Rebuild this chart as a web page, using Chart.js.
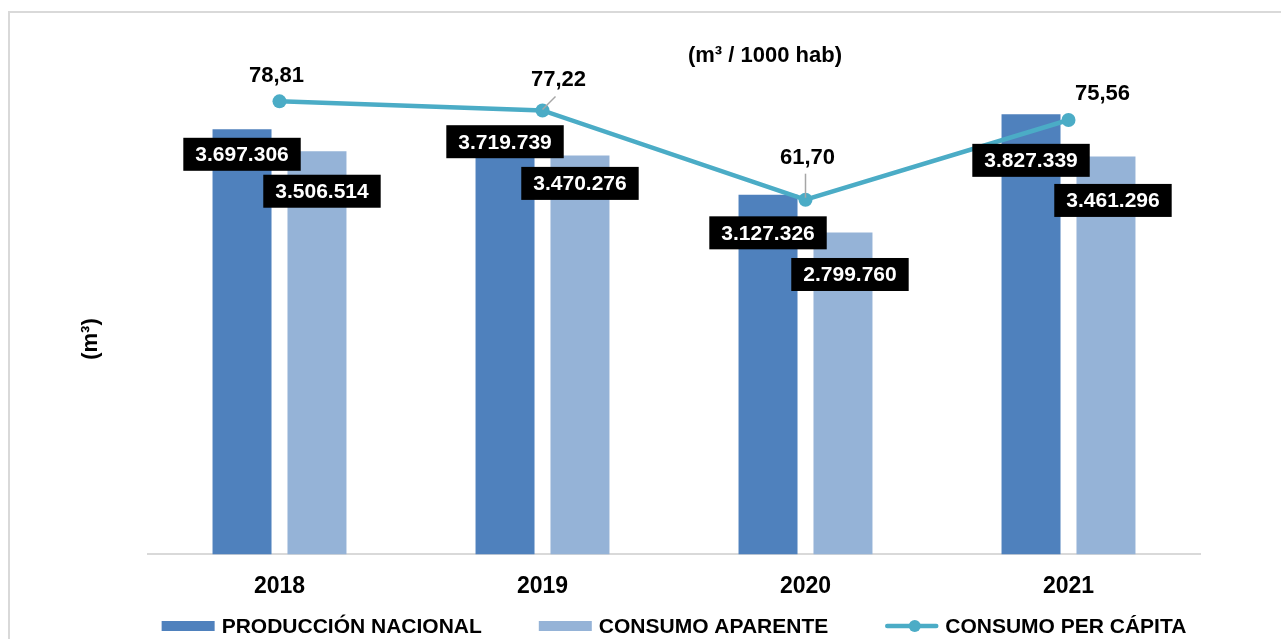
<!DOCTYPE html>
<html>
<head>
<meta charset="utf-8">
<script src="https://cdn.jsdelivr.net/npm/chart.js@4"></script>
<style>
    html, body { margin: 0; padding: 0; background: #fff; overflow: hidden; }
    #marco { position: absolute; left: 8px; top: 11px; width: 1320px; height: 700px; border: 2px solid #D9D9D9; box-sizing: border-box; }
    #caja { position: absolute; left: 0; top: 0; width: 1281px; height: 639px; }
</style>
</head>
<body>
<div id="marco"></div>
<div id="caja"><canvas id="grafico"></canvas></div>
<script>
// Datos
const anios = ['2018', '2019', '2020', '2021'];
const produccionNacional = [3697306, 3719739, 3127326, 3827339];
const consumoAparente = [3506514, 3470276, 2799760, 3461296];
const consumoPerCapita = [78.81, 77.22, 61.70, 75.56];
const nombresSeries = ['PRODUCCIÓN NACIONAL', 'CONSUMO APARENTE', 'CONSUMO PER CÁPITA'];
const maxM3 = 4500000;
const maxPerCapita = 90;

// Ajustes de posición de las etiquetas (px desde la barra / punto)
const desplazaBarras = [
    [[0, 25], [0, 15], [0, 38], [0, 46]],
    [[5, 40], [0, 28], [7, 42], [7, 44]]
];
const desplazaLinea = [[-3, -25], [16, -31], [2, -42], [34, -26]];
const guias = [null, [[0, -1], [13, -14]], [[0, -2], [0, -26]], null];

const colores = ['#4F81BD', '#95B3D7', '#4BACC6'];
const fuente = '"Liberation Sans", Arial, sans-serif';

function miles(n) {
    return String(n).replace(/\B(?=(\d{3})+(?!\d))/g, '.');
}
function decimal(n) {
    return n.toFixed(2).replace('.', ',');
}

const etiquetas = {
    id: 'etiquetas',
    afterDatasetsDraw: function (chart) {
        const ctx = chart.ctx;
        const area = chart.chartArea;
        ctx.save();
        ctx.textAlign = 'center';
        ctx.textBaseline = 'middle';

        // Cajas negras de las barras
        ctx.font = 'bold 21px ' + fuente;
        [0, 1].forEach(function (d) {
            chart.getDatasetMeta(d).data.forEach(function (bar, i) {
                const txt = miles(chart.data.datasets[d].data[i]);
                const off = desplazaBarras[d][i];
                const cx = bar.x + off[0];
                const cy = bar.y + off[1];
                const w = ctx.measureText(txt).width + 24;
                const h = 33;
                ctx.fillStyle = '#000';
                ctx.fillRect(cx - w / 2, cy - h / 2, w, h);
                ctx.fillStyle = '#fff';
                ctx.fillText(txt, cx, cy + 1);
            });
        });

        // Etiquetas de la línea
        ctx.font = 'bold 22px ' + fuente;
        chart.getDatasetMeta(2).data.forEach(function (pt, i) {
            const g = guias[i];
            if (g) {
                ctx.strokeStyle = '#A6A6A6';
                ctx.lineWidth = 1.5;
                ctx.beginPath();
                ctx.moveTo(pt.x + g[0][0], pt.y + g[0][1]);
                ctx.lineTo(pt.x + g[1][0], pt.y + g[1][1]);
                ctx.stroke();
            }
            const off = desplazaLinea[i];
            ctx.fillStyle = '#000';
            ctx.fillText(decimal(chart.data.datasets[2].data[i]), pt.x + off[0], pt.y + off[1]);
        });

        // Título superior
        ctx.font = 'bold 22px ' + fuente;
        ctx.fillText('(m³ / 1000 hab)', 765, 56);

        // Título del eje vertical
        ctx.save();
        ctx.translate(91, 339);
        ctx.rotate(-Math.PI / 2);
        ctx.fillText('(m³)', 0, 0);
        ctx.restore();

        // Leyenda
        ctx.font = 'bold 21px ' + fuente;
        ctx.textAlign = 'left';
        const simbolo = 53, hueco = 7, entre = 57;
        const anchos = nombresSeries.map(function (t) { return ctx.measureText(t).width; });
        let total = entre * (nombresSeries.length - 1);
        anchos.forEach(function (w) { total += simbolo + hueco + w; });
        let x = (area.left + area.right) / 2 - total / 2;
        const y = 626;
        nombresSeries.forEach(function (t, i) {
            if (i < 2) {
                ctx.fillStyle = colores[i];
                ctx.fillRect(x, y - 5, simbolo, 10);
            } else {
                ctx.strokeStyle = colores[i];
                ctx.lineWidth = 4.5;
                ctx.lineCap = 'round';
                ctx.beginPath();
                ctx.moveTo(x + 2, y);
                ctx.lineTo(x + simbolo - 2, y);
                ctx.stroke();
                ctx.fillStyle = colores[i];
                ctx.beginPath();
                ctx.arc(x + simbolo / 2 + 3, y, 6, 0, Math.PI * 2);
                ctx.fill();
            }
            ctx.fillStyle = '#000';
            ctx.fillText(t, x + simbolo + hueco, y + 1);
            x += simbolo + hueco + anchos[i] + entre;
        });
        ctx.restore();
    }
};

window.onload = function () {
    const ctx = document.getElementById('grafico');
    new Chart(ctx.getContext('2d'), {
        type: 'bar',
        data: {
            labels: anios,
            datasets: [{
                label: nombresSeries[0],
                data: produccionNacional,
                backgroundColor: colores[0],
                yAxisID: 'y',
                order: 1
            }, {
                label: nombresSeries[1],
                data: consumoAparente,
                backgroundColor: colores[1],
                yAxisID: 'y',
                order: 1
            }, {
                type: 'line',
                label: nombresSeries[2],
                data: consumoPerCapita,
                borderColor: colores[2],
                backgroundColor: colores[2],
                borderWidth: 4.5,
                pointRadius: 7,
                pointBorderWidth: 0,
                pointBackgroundColor: colores[2],
                tension: 0,
                yAxisID: 'y1',
                order: 0
            }]
        },
        options: {
            responsive: true,
            maintainAspectRatio: false,
            animation: false,
            categoryPercentage: 0.57,
            barPercentage: 0.787,
            layout: {
                padding: { left: 148, right: 81, top: 37, bottom: 21 }
            },
            scales: {
                x: {
                    grid: { display: false, drawTicks: false },
                    border: { display: true, color: '#D9D9D9', width: 2 },
                    ticks: {
                        color: '#000',
                        padding: 18,
                        font: { family: fuente, size: 23, weight: 'bold' }
                    }
                },
                y: {
                    display: false,
                    min: 0,
                    max: maxM3
                },
                y1: {
                    display: false,
                    min: 0,
                    max: maxPerCapita
                }
            },
            plugins: {
                legend: { display: false },
                title: { display: false },
                tooltip: { enabled: false }
            }
        },
        plugins: [etiquetas]
    });
};
</script>
</body>
</html>
